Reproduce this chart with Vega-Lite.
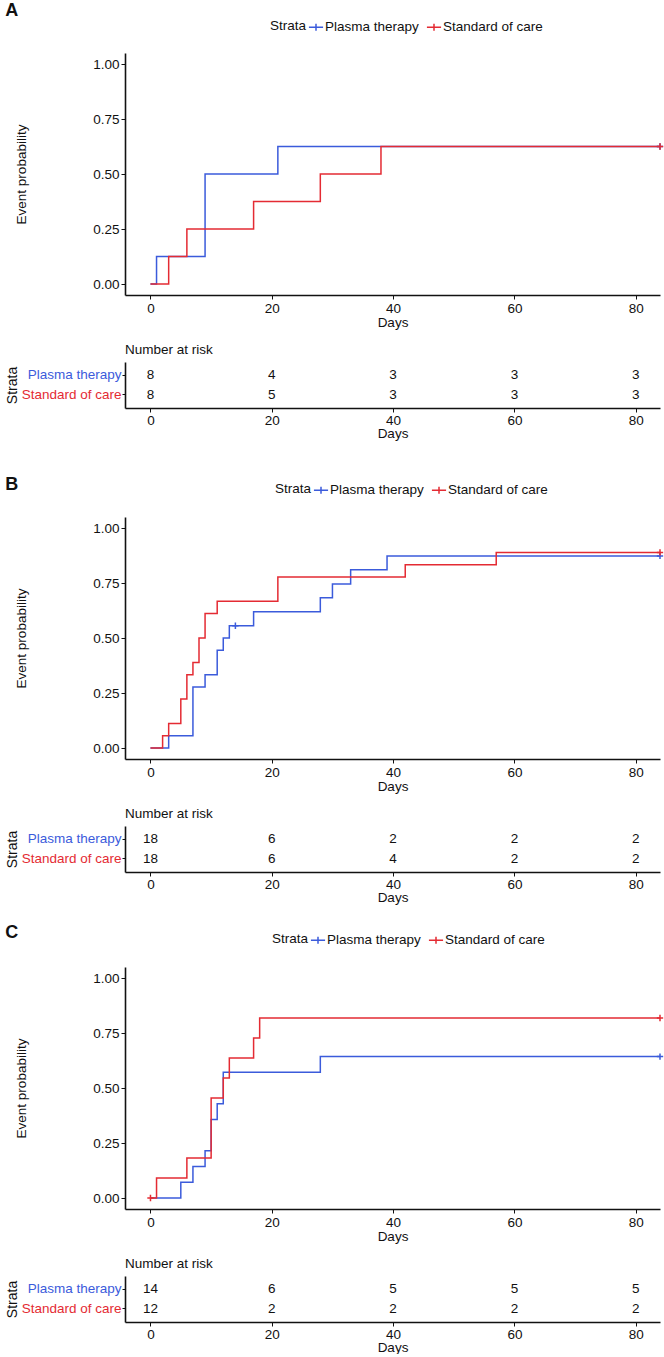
{
  "$schema": "https://vega.github.io/schema/vega-lite/v6.json",
  "padding": {"left": 5, "top": 2, "right": 0, "bottom": 0},
  "background": "white",
  "config": {
    "font": "Liberation Sans",
    "view": {"stroke": null},
    "axis": {
      "grid": false,
      "domainColor": "#111111",
      "domainWidth": 1.6,
      "tickColor": "#111111",
      "tickWidth": 1,
      "tickSize": 4,
      "labelColor": "#111111",
      "labelFontSize": 13.5,
      "labelFont": "Liberation Sans",
      "titleFont": "Liberation Sans",
      "titleFontSize": 13.5,
      "titleFontWeight": "normal",
      "titleColor": "#111111",
      "labelPadding": 2
    },
    "legend": {
      "labelFont": "Liberation Sans",
      "titleFont": "Liberation Sans"
    },
    "title": {"font": "Liberation Sans", "color": "#111111"}
  },
  "datasets": {
    "km": [
      {"panel": "A", "group": "Plasma therapy", "t": 0, "p": 0},
      {"panel": "A", "group": "Plasma therapy", "t": 1, "p": 0.125},
      {"panel": "A", "group": "Plasma therapy", "t": 9, "p": 0.5},
      {"panel": "A", "group": "Plasma therapy", "t": 21, "p": 0.625},
      {"panel": "A", "group": "Plasma therapy", "t": 84, "p": 0.625},
      {"panel": "A", "group": "Standard of care", "t": 0, "p": 0},
      {"panel": "A", "group": "Standard of care", "t": 3, "p": 0.125},
      {"panel": "A", "group": "Standard of care", "t": 6, "p": 0.25},
      {"panel": "A", "group": "Standard of care", "t": 17, "p": 0.375},
      {"panel": "A", "group": "Standard of care", "t": 28, "p": 0.5},
      {"panel": "A", "group": "Standard of care", "t": 38, "p": 0.625},
      {"panel": "A", "group": "Standard of care", "t": 84, "p": 0.625},
      {"panel": "B", "group": "Plasma therapy", "t": 0, "p": 0},
      {"panel": "B", "group": "Plasma therapy", "t": 3, "p": 0.0556},
      {"panel": "B", "group": "Plasma therapy", "t": 7, "p": 0.2778},
      {"panel": "B", "group": "Plasma therapy", "t": 9, "p": 0.3333},
      {"panel": "B", "group": "Plasma therapy", "t": 11, "p": 0.4444},
      {"panel": "B", "group": "Plasma therapy", "t": 12, "p": 0.5},
      {"panel": "B", "group": "Plasma therapy", "t": 13, "p": 0.5556},
      {"panel": "B", "group": "Plasma therapy", "t": 17, "p": 0.619},
      {"panel": "B", "group": "Plasma therapy", "t": 28, "p": 0.683},
      {"panel": "B", "group": "Plasma therapy", "t": 30, "p": 0.746},
      {"panel": "B", "group": "Plasma therapy", "t": 33, "p": 0.81},
      {"panel": "B", "group": "Plasma therapy", "t": 39, "p": 0.873},
      {"panel": "B", "group": "Plasma therapy", "t": 84, "p": 0.873},
      {"panel": "B", "group": "Standard of care", "t": 0, "p": 0},
      {"panel": "B", "group": "Standard of care", "t": 2, "p": 0.0556},
      {"panel": "B", "group": "Standard of care", "t": 3, "p": 0.1111},
      {"panel": "B", "group": "Standard of care", "t": 5, "p": 0.2222},
      {"panel": "B", "group": "Standard of care", "t": 6, "p": 0.3333},
      {"panel": "B", "group": "Standard of care", "t": 7, "p": 0.3889},
      {"panel": "B", "group": "Standard of care", "t": 8, "p": 0.5},
      {"panel": "B", "group": "Standard of care", "t": 9, "p": 0.6111},
      {"panel": "B", "group": "Standard of care", "t": 11, "p": 0.6667},
      {"panel": "B", "group": "Standard of care", "t": 21, "p": 0.7778},
      {"panel": "B", "group": "Standard of care", "t": 42, "p": 0.8333},
      {"panel": "B", "group": "Standard of care", "t": 57, "p": 0.8889},
      {"panel": "B", "group": "Standard of care", "t": 84, "p": 0.8889},
      {"panel": "C", "group": "Plasma therapy", "t": 0, "p": 0},
      {"panel": "C", "group": "Plasma therapy", "t": 5, "p": 0.0714},
      {"panel": "C", "group": "Plasma therapy", "t": 7, "p": 0.1429},
      {"panel": "C", "group": "Plasma therapy", "t": 9, "p": 0.2143},
      {"panel": "C", "group": "Plasma therapy", "t": 10, "p": 0.3571},
      {"panel": "C", "group": "Plasma therapy", "t": 11, "p": 0.4286},
      {"panel": "C", "group": "Plasma therapy", "t": 12, "p": 0.5714},
      {"panel": "C", "group": "Plasma therapy", "t": 28, "p": 0.6429},
      {"panel": "C", "group": "Plasma therapy", "t": 84, "p": 0.6429},
      {"panel": "C", "group": "Standard of care", "t": 0, "p": 0},
      {"panel": "C", "group": "Standard of care", "t": 1, "p": 0.0909},
      {"panel": "C", "group": "Standard of care", "t": 6, "p": 0.1818},
      {"panel": "C", "group": "Standard of care", "t": 10, "p": 0.4545},
      {"panel": "C", "group": "Standard of care", "t": 12, "p": 0.5455},
      {"panel": "C", "group": "Standard of care", "t": 13, "p": 0.6364},
      {"panel": "C", "group": "Standard of care", "t": 17, "p": 0.7273},
      {"panel": "C", "group": "Standard of care", "t": 18, "p": 0.8182},
      {"panel": "C", "group": "Standard of care", "t": 84, "p": 0.8182}
    ],
    "cens": [
      {"panel": "A", "group": "Plasma therapy", "t": 84, "p": 0.625},
      {"panel": "A", "group": "Standard of care", "t": 84, "p": 0.625},
      {"panel": "B", "group": "Plasma therapy", "t": 14, "p": 0.5556},
      {"panel": "B", "group": "Plasma therapy", "t": 84, "p": 0.873},
      {"panel": "B", "group": "Standard of care", "t": 84, "p": 0.8889},
      {"panel": "C", "group": "Plasma therapy", "t": 84, "p": 0.6429},
      {"panel": "C", "group": "Standard of care", "t": 0, "p": 0},
      {"panel": "C", "group": "Standard of care", "t": 84, "p": 0.8182}
    ],
    "risk": [
      {"panel": "A", "group": "Plasma therapy", "t": 0, "n": 8},
      {"panel": "A", "group": "Plasma therapy", "t": 20, "n": 4},
      {"panel": "A", "group": "Plasma therapy", "t": 40, "n": 3},
      {"panel": "A", "group": "Plasma therapy", "t": 60, "n": 3},
      {"panel": "A", "group": "Plasma therapy", "t": 80, "n": 3},
      {"panel": "A", "group": "Standard of care", "t": 0, "n": 8},
      {"panel": "A", "group": "Standard of care", "t": 20, "n": 5},
      {"panel": "A", "group": "Standard of care", "t": 40, "n": 3},
      {"panel": "A", "group": "Standard of care", "t": 60, "n": 3},
      {"panel": "A", "group": "Standard of care", "t": 80, "n": 3},
      {"panel": "B", "group": "Plasma therapy", "t": 0, "n": 18},
      {"panel": "B", "group": "Plasma therapy", "t": 20, "n": 6},
      {"panel": "B", "group": "Plasma therapy", "t": 40, "n": 2},
      {"panel": "B", "group": "Plasma therapy", "t": 60, "n": 2},
      {"panel": "B", "group": "Plasma therapy", "t": 80, "n": 2},
      {"panel": "B", "group": "Standard of care", "t": 0, "n": 18},
      {"panel": "B", "group": "Standard of care", "t": 20, "n": 6},
      {"panel": "B", "group": "Standard of care", "t": 40, "n": 4},
      {"panel": "B", "group": "Standard of care", "t": 60, "n": 2},
      {"panel": "B", "group": "Standard of care", "t": 80, "n": 2},
      {"panel": "C", "group": "Plasma therapy", "t": 0, "n": 14},
      {"panel": "C", "group": "Plasma therapy", "t": 20, "n": 6},
      {"panel": "C", "group": "Plasma therapy", "t": 40, "n": 5},
      {"panel": "C", "group": "Plasma therapy", "t": 60, "n": 5},
      {"panel": "C", "group": "Plasma therapy", "t": 80, "n": 5},
      {"panel": "C", "group": "Standard of care", "t": 0, "n": 12},
      {"panel": "C", "group": "Standard of care", "t": 20, "n": 2},
      {"panel": "C", "group": "Standard of care", "t": 40, "n": 2},
      {"panel": "C", "group": "Standard of care", "t": 60, "n": 2},
      {"panel": "C", "group": "Standard of care", "t": 80, "n": 2}
    ]
  },
  "resolve": {"scale": {"color": "independent"}, "legend": {"color": "independent"}},
  "spacing": 36,
  "vconcat": [
    {
      "title": {"text": "A", "anchor": "start", "frame": "bounds", "fontSize": 18, "fontWeight": "bold", "offset": -1},
      "spacing": 13,
      "vconcat": [
        {
          "width": 535, "height": 242,
          "layer": [
            {
              "data": {"name": "km"},
              "transform": [{"filter": "datum.panel == 'A'"}],
              "mark": {"type": "line", "interpolate": "step-after", "strokeWidth": 1.5},
              "encoding": {
                "x": {"field": "t", "type": "quantitative", "scale": {"domain": [-4.2, 84], "nice": false, "zero": false}, "axis": {"values": [0, 20, 40, 60, 80], "title": "Days", "titlePadding": 1}},
                "y": {"field": "p", "type": "quantitative", "scale": {"domain": [-0.05, 1.05], "nice": false}, "axis": {"values": [0, 0.25, 0.5, 0.75, 1], "format": ".2f", "title": "Event probability", "titlePadding": 64}},
                "color": {"field": "group", "type": "nominal", "scale": {"domain": ["Plasma therapy", "Standard of care"], "range": ["#3B5BDB", "#E42B33"]},
                  "legend": {"orient": "none", "legendX": 145, "legendY": -34, "direction": "horizontal", "title": "Strata", "titleOrient": "left", "titleFontSize": 13.5, "titleFontWeight": "normal", "titleColor": "#111111", "titlePadding": 1, "labelFontSize": 13.5, "labelColor": "#111111", "labelOffset": 1, "columnPadding": 4, "symbolType": "M-1,0H1M0,-0.5V0.5", "symbolSize": 200, "symbolStrokeWidth": 1.5}}
              }
            },
            {
              "data": {"name": "cens"},
              "transform": [{"filter": "datum.panel == 'A'"}],
              "mark": {"type": "point", "shape": "M0,-1V1M-1,0H1", "filled": false, "size": 40, "strokeWidth": 1.5, "opacity": 1},
              "encoding": {
                "x": {"field": "t", "type": "quantitative"},
                "y": {"field": "p", "type": "quantitative"},
                "color": {"field": "group", "type": "nominal"}
              }
            }
          ]
        },
        {
          "width": 535, "height": 46,
          "data": {"name": "risk"},
          "transform": [{"filter": "datum.panel == 'A'"}],
          "title": {"text": "Number at risk", "anchor": "start", "frame": "group", "fontSize": 13.5, "fontWeight": "normal", "offset": 6},
          "mark": {"type": "text", "fontSize": 13.5, "color": "#111111"},
          "encoding": {
            "x": {"field": "t", "type": "quantitative", "scale": {"domain": [-4.2, 84], "nice": false, "zero": false}, "axis": {"values": [0, 20, 40, 60, 80], "title": "Days", "titlePadding": 0, "labelPadding": 1}},
            "y": {"field": "group", "type": "nominal", "sort": ["Plasma therapy", "Standard of care"], "scale": {"type": "band", "paddingInner": 0, "paddingOuter": 0.2}, "axis": {"title": "Strata", "titleFontSize": 14, "titlePadding": 2, "tickSize": 3, "labelPadding": 1, "labelFontSize": 13.5, "labelColor": {"condition": {"test": "datum.value == 'Plasma therapy'", "value": "#3B5BDB"}, "value": "#E42B33"}}},
            "text": {"field": "n", "type": "quantitative"}
          }
        }
      ]
    },
    {
      "resolve": {"scale": {"color": "independent"}, "legend": {"color": "independent"}},
      "spacing": 20,
      "vconcat": [
        {
          "title": {"text": "B", "anchor": "start", "frame": "bounds", "fontSize": 18, "fontWeight": "bold", "offset": -12},
          "spacing": 13,
          "vconcat": [
            {
              "width": 535, "height": 242,
              "layer": [
                {
                  "data": {"name": "km"},
                  "transform": [{"filter": "datum.panel == 'B'"}],
                  "mark": {"type": "line", "interpolate": "step-after", "strokeWidth": 1.5},
                  "encoding": {
                    "x": {"field": "t", "type": "quantitative", "scale": {"domain": [-4.2, 84], "nice": false, "zero": false}, "axis": {"values": [0, 20, 40, 60, 80], "title": "Days", "titlePadding": 1}},
                    "y": {"field": "p", "type": "quantitative", "scale": {"domain": [-0.05, 1.05], "nice": false}, "axis": {"values": [0, 0.25, 0.5, 0.75, 1], "format": ".2f", "title": "Event probability", "titlePadding": 64}},
                    "color": {"field": "group", "type": "nominal", "scale": {"domain": ["Plasma therapy", "Standard of care"], "range": ["#3B5BDB", "#E42B33"]},
                      "legend": {"orient": "none", "legendX": 150, "legendY": -35, "direction": "horizontal", "title": "Strata", "titleOrient": "left", "titleFontSize": 13.5, "titleFontWeight": "normal", "titleColor": "#111111", "titlePadding": 1, "labelFontSize": 13.5, "labelColor": "#111111", "labelOffset": 1, "columnPadding": 4, "symbolType": "M-1,0H1M0,-0.5V0.5", "symbolSize": 200, "symbolStrokeWidth": 1.5}}
                  }
                },
                {
                  "data": {"name": "cens"},
                  "transform": [{"filter": "datum.panel == 'B'"}],
                  "mark": {"type": "point", "shape": "M0,-1V1M-1,0H1", "filled": false, "size": 40, "strokeWidth": 1.5, "opacity": 1},
                  "encoding": {
                    "x": {"field": "t", "type": "quantitative"},
                    "y": {"field": "p", "type": "quantitative"},
                    "color": {"field": "group", "type": "nominal"}
                  }
                }
              ]
            },
            {
              "width": 535, "height": 46,
              "data": {"name": "risk"},
              "transform": [{"filter": "datum.panel == 'B'"}],
              "title": {"text": "Number at risk", "anchor": "start", "frame": "group", "fontSize": 13.5, "fontWeight": "normal", "offset": 6},
              "mark": {"type": "text", "fontSize": 13.5, "color": "#111111"},
              "encoding": {
                "x": {"field": "t", "type": "quantitative", "scale": {"domain": [-4.2, 84], "nice": false, "zero": false}, "axis": {"values": [0, 20, 40, 60, 80], "title": "Days", "titlePadding": 0, "labelPadding": 1}},
                "y": {"field": "group", "type": "nominal", "sort": ["Plasma therapy", "Standard of care"], "scale": {"type": "band", "paddingInner": 0, "paddingOuter": 0.2}, "axis": {"title": "Strata", "titleFontSize": 14, "titlePadding": 2, "tickSize": 3, "labelPadding": 1, "labelFontSize": 13.5, "labelColor": {"condition": {"test": "datum.value == 'Plasma therapy'", "value": "#3B5BDB"}, "value": "#E42B33"}}},
                "text": {"field": "n", "type": "quantitative"}
              }
            }
          ]
        },
        {
          "title": {"text": "C", "anchor": "start", "frame": "bounds", "fontSize": 18, "fontWeight": "bold", "offset": -10},
          "spacing": 13,
          "vconcat": [
            {
              "width": 535, "height": 242,
              "layer": [
                {
                  "data": {"name": "km"},
                  "transform": [{"filter": "datum.panel == 'C'"}],
                  "mark": {"type": "line", "interpolate": "step-after", "strokeWidth": 1.5},
                  "encoding": {
                    "x": {"field": "t", "type": "quantitative", "scale": {"domain": [-4.2, 84], "nice": false, "zero": false}, "axis": {"values": [0, 20, 40, 60, 80], "title": "Days", "titlePadding": 1}},
                    "y": {"field": "p", "type": "quantitative", "scale": {"domain": [-0.05, 1.05], "nice": false}, "axis": {"values": [0, 0.25, 0.5, 0.75, 1], "format": ".2f", "title": "Event probability", "titlePadding": 64}},
                    "color": {"field": "group", "type": "nominal", "scale": {"domain": ["Plasma therapy", "Standard of care"], "range": ["#3B5BDB", "#E42B33"]},
                      "legend": {"orient": "none", "legendX": 147, "legendY": -35, "direction": "horizontal", "title": "Strata", "titleOrient": "left", "titleFontSize": 13.5, "titleFontWeight": "normal", "titleColor": "#111111", "titlePadding": 1, "labelFontSize": 13.5, "labelColor": "#111111", "labelOffset": 1, "columnPadding": 4, "symbolType": "M-1,0H1M0,-0.5V0.5", "symbolSize": 200, "symbolStrokeWidth": 1.5}}
                  }
                },
                {
                  "data": {"name": "cens"},
                  "transform": [{"filter": "datum.panel == 'C'"}],
                  "mark": {"type": "point", "shape": "M0,-1V1M-1,0H1", "filled": false, "size": 40, "strokeWidth": 1.5, "opacity": 1},
                  "encoding": {
                    "x": {"field": "t", "type": "quantitative"},
                    "y": {"field": "p", "type": "quantitative"},
                    "color": {"field": "group", "type": "nominal"}
                  }
                }
              ]
            },
            {
              "width": 535, "height": 46,
              "data": {"name": "risk"},
              "transform": [{"filter": "datum.panel == 'C'"}],
              "title": {"text": "Number at risk", "anchor": "start", "frame": "group", "fontSize": 13.5, "fontWeight": "normal", "offset": 6},
              "mark": {"type": "text", "fontSize": 13.5, "color": "#111111"},
              "encoding": {
                "x": {"field": "t", "type": "quantitative", "scale": {"domain": [-4.2, 84], "nice": false, "zero": false}, "axis": {"values": [0, 20, 40, 60, 80], "title": "Days", "titlePadding": 0, "labelPadding": 1}},
                "y": {"field": "group", "type": "nominal", "sort": ["Plasma therapy", "Standard of care"], "scale": {"type": "band", "paddingInner": 0, "paddingOuter": 0.2}, "axis": {"title": "Strata", "titleFontSize": 14, "titlePadding": 2, "tickSize": 3, "labelPadding": 1, "labelFontSize": 13.5, "labelColor": {"condition": {"test": "datum.value == 'Plasma therapy'", "value": "#3B5BDB"}, "value": "#E42B33"}}},
                "text": {"field": "n", "type": "quantitative"}
              }
            }
          ]
        }
      ]
    }
  ]
}
